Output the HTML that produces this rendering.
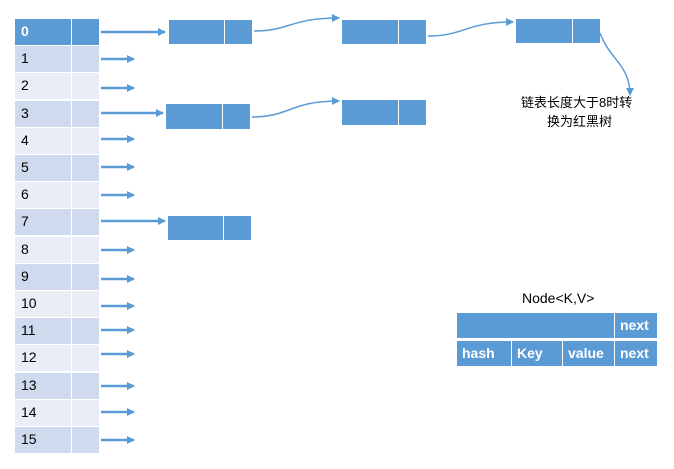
<!DOCTYPE html>
<html><head><meta charset="utf-8"><style>
body{margin:0;width:674px;height:469px;background:#fff;position:relative;font-family:"Liberation Sans","Noto Sans CJK SC",sans-serif;overflow:hidden}
.c{position:absolute;box-sizing:border-box;border:1px solid #fff;font-size:14px;line-height:25px;padding-left:6px;color:#000}
.b{position:absolute;background:#5b9bd5;box-sizing:border-box;border:1px solid #fff}
.t{position:absolute;font-size:13px;color:#000;white-space:nowrap}
.w{color:#fff;font-weight:bold;font-size:14px;line-height:24px;padding-left:5px}
</style></head><body>
<div id="tbl"></div>
<script>
var h='',ys=[32,59,88,113,139,167,195,221,250,279,306,330,354,386,412,440];
for(var i=0;i<16;i++){var y=18+i*27.2;var bg=i==0?'#5b9bd5':(i%2?'#cfdaee':'#e8edf6');
h+='<div class="c" style="left:14px;top:'+y+'px;width:58px;height:28px;background:'+bg+(i==0?';color:#fff;font-weight:bold':'')+'">'+i+'</div>';
h+='<div class="c" style="left:71px;top:'+y+'px;width:29px;height:28px;background:'+bg+'"></div>';}
document.getElementById('tbl').innerHTML=h;
</script>
<div class="b" style="left:168px;top:19px;width:57px;height:26px"></div><div class="b" style="left:224px;top:19px;width:29px;height:26px"></div>
<div class="b" style="left:341px;top:19px;width:58px;height:26px"></div><div class="b" style="left:398px;top:19px;width:29px;height:26px"></div>
<div class="b" style="left:515px;top:18px;width:58px;height:26px"></div><div class="b" style="left:572px;top:18px;width:29px;height:26px"></div>
<div class="b" style="left:165px;top:103px;width:58px;height:27px"></div><div class="b" style="left:222px;top:103px;width:29px;height:27px"></div>
<div class="b" style="left:341px;top:99px;width:58px;height:27px"></div><div class="b" style="left:398px;top:99px;width:29px;height:27px"></div>
<div class="b" style="left:167px;top:215px;width:57px;height:26px"></div><div class="b" style="left:223px;top:215px;width:29px;height:26px"></div>
<svg style="position:absolute;left:0;top:0" width="674" height="469">
<defs><marker id="a" markerWidth="8" markerHeight="8" refX="7" refY="4" orient="auto" markerUnits="userSpaceOnUse"><path d="M0,0L8,4L0,8z" fill="#5b9bd5"/></marker></defs>
<g stroke="#5b9bd5" stroke-width="2.5" fill="none" marker-end="url(#a)">
<line x1="101" y1="32" x2="165" y2="32"/>
<line x1="101" y1="59" x2="134" y2="59"/><line x1="101" y1="88" x2="134" y2="88"/>
<line x1="101" y1="113" x2="163" y2="113"/><line x1="101" y1="139" x2="134" y2="139"/>
<line x1="101" y1="167" x2="134" y2="167"/><line x1="101" y1="195" x2="134" y2="195"/>
<line x1="101" y1="221" x2="165" y2="221"/><line x1="101" y1="250" x2="134" y2="250"/>
<line x1="101" y1="279" x2="134" y2="279"/><line x1="101" y1="306" x2="134" y2="306"/>
<line x1="101" y1="330" x2="134" y2="330"/><line x1="101" y1="354" x2="134" y2="354"/>
<line x1="101" y1="386" x2="134" y2="386"/><line x1="101" y1="412" x2="134" y2="412"/>
<line x1="101" y1="440" x2="134" y2="440"/>
</g>
<g stroke="#5b9bd5" stroke-width="1.5" fill="none" marker-end="url(#a)">
<path d="M254,31 C290,31 290,18 339,18"/>
<path d="M428,36 C465,36 465,22 513,22"/>
<path d="M252,117 C290,117 290,101 339,101"/>
<path d="M600,33 C610,60 630,65 630,95"/>
</g></svg>
<div class="t" style="left:521px;top:92px">链表长度大于8时转</div>
<div class="t" style="left:547px;top:111px">换为红黑树</div>
<div class="t" style="left:522px;top:290px;font-size:14px">Node&lt;K,V&gt;</div>
<div class="b" style="left:456px;top:312px;width:159px;height:27px"></div>
<div class="b w" style="left:614px;top:312px;width:44px;height:27px">next</div>
<div class="b w" style="left:456px;top:340px;width:56px;height:27px">hash</div>
<div class="b w" style="left:511px;top:340px;width:52px;height:27px">Key</div>
<div class="b w" style="left:562px;top:340px;width:53px;height:27px">value</div>
<div class="b w" style="left:614px;top:340px;width:44px;height:27px">next</div>
</body></html>
